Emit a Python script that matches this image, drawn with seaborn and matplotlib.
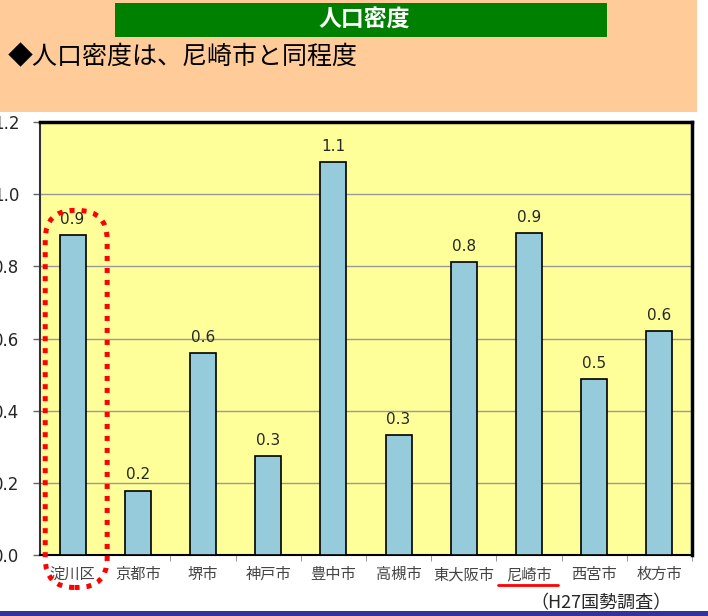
import pandas as pd
import numpy as np
import matplotlib
matplotlib.use("Agg")
import matplotlib.pyplot as plt
import seaborn as sns
from matplotlib.patches import Rectangle, FancyBboxPatch

sns.set_style("white")
plt.rcParams["font.family"] = ["Noto Sans CJK JP", "DejaVu Sans"]

# data
cities = ["淀川区", "京都市", "堺市", "神戸市", "豊中市", "高槻市", "東大阪市", "尼崎市", "西宮市", "枚方市"]
density = [0.887, 0.178, 0.560, 0.274, 1.089, 0.333, 0.812, 0.892, 0.488, 0.621]
y_ticks = [0.0, 0.2, 0.4, 0.6, 0.8, 1.0, 1.2]

df = pd.DataFrame({"city": cities, "density": density})

W, H = 708, 616
fig = plt.figure(figsize=(W / 100, H / 100), dpi=100)
ax = fig.add_axes([40 / W, 1 - 555 / H, 652 / W, 433 / H])

# header band
fig.patches.append(Rectangle((0, 1 - 112 / H), 697 / W, 112 / H, transform=fig.transFigure,
                             facecolor="#FFCC99", edgecolor="none", zorder=0))
fig.patches.append(Rectangle((115 / W, 1 - 37 / H), 492 / W, 34 / H, transform=fig.transFigure,
                             facecolor="#008000", edgecolor="none", zorder=1))
fig.text(364 / W, 1 - 20 / H, "人口密度", color="white", fontsize=16.5, fontweight="bold",
         ha="center", va="center")
fig.text(8 / W, 1 - 57 / H, "◆人口密度は、尼崎市と同程度", color="black", fontsize=18,
         ha="left", va="center")
# bottom stripe
fig.patches.append(Rectangle((0, 0), 1, 5 / H, transform=fig.transFigure,
                             facecolor="#333399", edgecolor="none", zorder=1))
fig.text(672 / W, 1 - 603 / H, "（H27国勢調査）", fontsize=13, ha="right", va="center")

sns.barplot(data=df, x="city", y="density", ax=ax, color="#96CBDB", width=0.4,
            edgecolor="black", linewidth=1.2, saturation=1, zorder=3)
ax.bar_label(ax.containers[0], fmt="%.1f", padding=6, fontsize=11, family="DejaVu Sans")

ax.set_facecolor("#FFFF99")
ax.set_ylim(0, 1.2)
ax.set_xlim(-0.5, len(cities) - 0.5)
ax.set_yticks(y_ticks)
ax.set_yticklabels([f"{v:.1f}" for v in y_ticks], fontsize=12, family="DejaVu Sans")
ax.yaxis.grid(True, color="#999999", linewidth=1)
ax.set_axisbelow(True)
ax.set_xlabel("")
ax.set_ylabel("")
ax.tick_params(axis="y", length=5, width=1, color="#666666", pad=10, left=True)
ax.tick_params(axis="x", length=0, labelsize=11, labelcolor="#444444", pad=8)
ax.set_xticks(np.arange(len(cities)) + 0.5, minor=True)
ax.tick_params(axis="x", which="minor", length=4, color="#888888", bottom=True)

for side in ["top", "right"]:
    ax.spines[side].set_linewidth(2.5)
    ax.spines[side].set_color("black")
ax.spines["left"].set_linewidth(1.5)
ax.spines["left"].set_color("#333333")
ax.spines["bottom"].set_linewidth(1.5)
ax.spines["bottom"].set_color("black")

# red dotted highlight around 淀川区
x_px = 652 / len(cities)
y_px = 433 / 1.2
box = FancyBboxPatch((-0.42, -0.09), 0.95, 1.045,
                     boxstyle="round,pad=0,rounding_size=0.45",
                     mutation_aspect=(1 / y_px) / (1 / x_px),
                     transform=ax.transData, clip_on=False, fill=False,
                     edgecolor="red", linewidth=3.6, linestyle=(0, (1, 1.4)), zorder=6)
ax.add_patch(box)

# underline for 尼崎市
ax.plot([6.52, 7.44], [-0.083, -0.083], color="red", linewidth=2, clip_on=False, zorder=6)

fig.savefig("out.png", dpi=100)
